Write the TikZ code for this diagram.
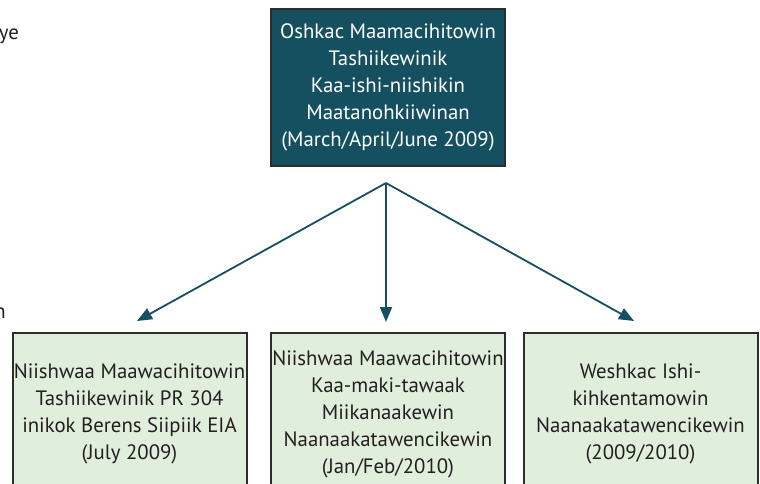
\documentclass[tikz,border=0pt]{standalone}
\usepackage{fontspec}
\setmainfont{PT Sans}
\usetikzlibrary{arrows.meta}
\definecolor{teal}{RGB}{21,80,96}
\definecolor{palegreen}{RGB}{224,239,219}
\definecolor{ink}{RGB}{35,31,32}
\definecolor{edge}{RGB}{45,45,45}
\tikzset{
  topbox/.style={draw=edge, line width=2pt, fill=teal, text=white, align=center,
    minimum width=234pt, minimum height=157pt, inner sep=0pt,
    font=\fontsize{20.8}{27}\selectfont},
  lowbox/.style={draw=edge, line width=2pt, fill=palegreen, text=ink, align=center,
    minimum width=234pt, minimum height=162pt, inner sep=0pt,
    font=\fontsize{20.8}{27}\selectfont},
  conn/.style={draw=teal, line width=1.8pt, -{Triangle[length=15pt,width=12pt]}},
  frag/.style={text=ink, inner sep=0pt, font=\fontsize{20.8}{27}\selectfont}
}
\begin{document}
\begin{tikzpicture}[x=1pt,y=-1pt]
\useasboundingbox (0,0) rectangle (760,483);
\clip (0,0) rectangle (760,483);
\fill[white] (0,0) rectangle (760,483);
\node[frag, anchor=base east] (fragA) at (19,39) {ye};
\node[frag, anchor=base east] (fragB) at (6,318) {n};
\node[topbox] (top) at (388,87.5) {Oshkac Maamacihitowin\\Tashiikewinik\\Kaa-ishi-niishikin\\Maatanohkiiwinan\\(March/April/June 2009)};
\node[lowbox] (b1) at (129.5,414) {Niishwaa Maawacihitowin\\Tashiikewinik PR 304\\inikok Berens Siipiik EIA\\(July 2009)};
\node[lowbox] (b2) at (388,414) {Niishwaa Maawacihitowin\\Kaa-maki-tawaak\\Miikanaakewin\\Naanaakatawencikewin\\(Jan/Feb/2010)};
\node[lowbox] (b3) at (640.5,414) {Weshkac Ishi-\\kihkentamowin\\Naanaakatawencikewin\\(2009/2010)};
\coordinate (split) at (386,183);
\coordinate (e1) at (137,321);
\coordinate (e2) at (386,322);
\coordinate (e3) at (634,321);
\draw[conn] (split) -- (e1);
\draw[conn] (split) -- (e2);
\draw[conn] (split) -- (e3);
\end{tikzpicture}
\end{document}
